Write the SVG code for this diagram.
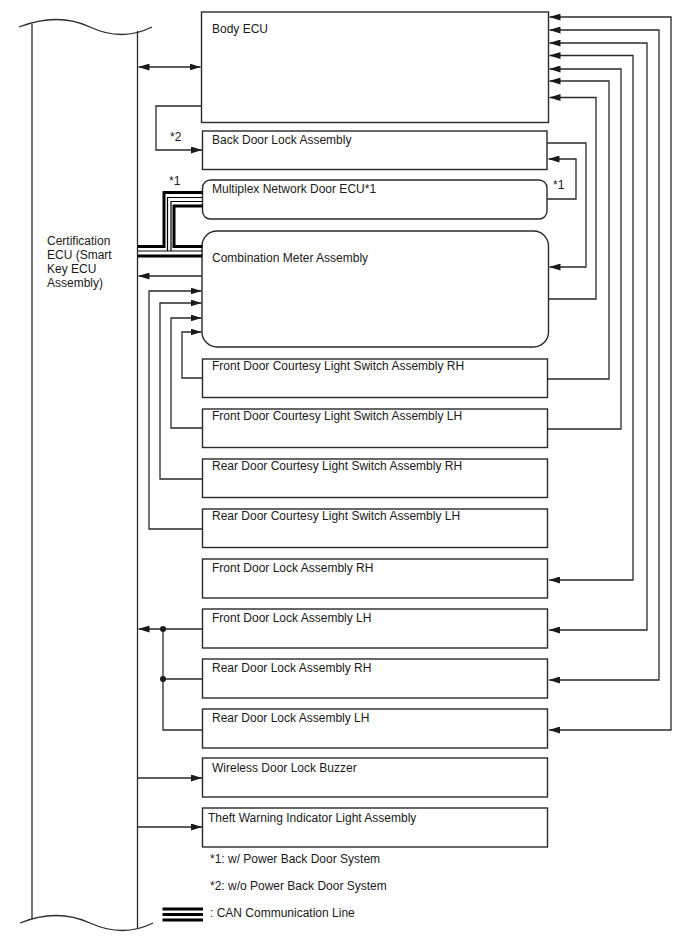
<svg xmlns="http://www.w3.org/2000/svg" width="688" height="949" viewBox="0 0 688 949">
<style>
text{font-family:"Liberation Sans",Arial,sans-serif;font-size:12px;fill:#1a1a1a}
.box{fill:#fff;stroke:#2a2a2a;stroke-width:1.4}
.ln{fill:none;stroke:#2a2a2a;stroke-width:1.3}
.can{fill:none;stroke:#000;stroke-width:3}
.cant{fill:none;stroke:#000;stroke-width:1.2}
</style>
<defs>
<marker id="ah" viewBox="0 0 11 7" refX="11" refY="3.5" markerWidth="11" markerHeight="7" markerUnits="userSpaceOnUse" orient="auto-start-reverse">
<path d="M0,0 L11,3.5 L0,7 z" fill="#1a1a1a"/>
</marker>
</defs>
<rect width="688" height="949" fill="#fff"/>

<g id="cert-ecu">
<path class="ln" d="M19,27 Q58,12 90,27 T152,27"/>
<path class="ln" d="M32,24 V919"/>
<path class="ln" d="M137.5,31 V928"/>
<path class="ln" d="M20,923 Q57,908 90,923 T153,923"/>
<text x="47" y="245">Certification</text>
<text x="47" y="259">ECU (Smart</text>
<text x="47" y="273">Key ECU</text>
<text x="47" y="287">Assembly)</text>
</g>

<g id="body-ecu"><rect class="box" x="201.5" y="12" width="347" height="110.5"/><text x="212" y="33">Body ECU</text></g>
<g id="back-door-lock"><rect class="box" x="202.5" y="131" width="344.5" height="38.5"/><text x="212" y="144">Back Door Lock Assembly</text></g>
<g id="multiplex-door-ecu"><rect class="box" x="202.5" y="180" width="344.5" height="39" rx="8"/><text x="212" y="193">Multiplex Network Door ECU*1</text></g>
<g id="combination-meter"><rect class="box" x="202" y="231" width="346.5" height="116" rx="15"/><text x="212" y="261.5">Combination Meter Assembly</text></g>
<g id="fr-courtesy-rh"><rect class="box" x="202.5" y="359" width="345" height="38.5"/><text x="212" y="370">Front Door Courtesy Light Switch Assembly RH</text></g>
<g id="fr-courtesy-lh"><rect class="box" x="202.5" y="409" width="345" height="38.5"/><text x="212" y="420">Front Door Courtesy Light Switch Assembly LH</text></g>
<g id="rr-courtesy-rh"><rect class="box" x="202.5" y="459" width="345" height="38.5"/><text x="212" y="470">Rear Door Courtesy Light Switch Assembly RH</text></g>
<g id="rr-courtesy-lh"><rect class="box" x="202.5" y="509" width="345" height="38.5"/><text x="212" y="520">Rear Door Courtesy Light Switch Assembly LH</text></g>
<g id="fr-lock-rh"><rect class="box" x="202.5" y="559" width="345" height="39"/><text x="212" y="571.5">Front Door Lock Assembly RH</text></g>
<g id="fr-lock-lh"><rect class="box" x="202.5" y="609" width="345" height="39"/><text x="212" y="621.5">Front Door Lock Assembly LH</text></g>
<g id="rr-lock-rh"><rect class="box" x="202.5" y="659" width="345" height="39"/><text x="212" y="671.5">Rear Door Lock Assembly RH</text></g>
<g id="rr-lock-lh"><rect class="box" x="202.5" y="709" width="345" height="39"/><text x="212" y="721.5">Rear Door Lock Assembly LH</text></g>
<g id="wireless-buzzer"><rect class="box" x="202.5" y="758" width="345" height="39"/><text x="212" y="771.5">Wireless Door Lock Buzzer</text></g>
<g id="theft-indicator"><rect class="box" x="202.5" y="808" width="345" height="39"/><text x="208" y="821.5">Theft Warning Indicator Light Assembly</text></g>

<g id="connectors">
<path class="ln" d="M549,730 H671 V17 H549.5" marker-start="url(#ah)" marker-end="url(#ah)"/>
<path class="ln" d="M549,680 H659 V30 H549.5" marker-start="url(#ah)" marker-end="url(#ah)"/>
<path class="ln" d="M549,630 H647 V43 H549.5" marker-start="url(#ah)" marker-end="url(#ah)"/>
<path class="ln" d="M549,580 H633 V55.5 H549.5" marker-start="url(#ah)" marker-end="url(#ah)"/>
<path class="ln" d="M547.5,429 H621 V69 H549.5" marker-end="url(#ah)"/>
<path class="ln" d="M547.5,379 H609 V81 H549.5" marker-end="url(#ah)"/>
<path class="ln" d="M548.5,299 H596 V97.5 H549.5" marker-end="url(#ah)"/>
<path class="ln" d="M547,143 H586 V267 H549.5" marker-end="url(#ah)"/>
<path class="ln" d="M547,199 H576 V159 H548.5" marker-end="url(#ah)"/>
<text x="553" y="189">*1</text>

<path class="ln" d="M138.5,67 H200.5" marker-start="url(#ah)" marker-end="url(#ah)"/>
<path class="ln" d="M201.5,106 H156 V150 H202" marker-end="url(#ah)"/>
<text x="170" y="141">*2</text>
<path class="ln" d="M202,276 H138.5" marker-end="url(#ah)"/>
<path class="ln" d="M202.5,529 H149 V291 H201.5" marker-end="url(#ah)"/>
<path class="ln" d="M202.5,479 H160 V303 H201.5" marker-end="url(#ah)"/>
<path class="ln" d="M202.5,428 H171 V318 H201.5" marker-end="url(#ah)"/>
<path class="ln" d="M202.5,378 H182 V332 H201.5" marker-end="url(#ah)"/>
<path class="ln" d="M202.5,629 H138.5" marker-end="url(#ah)"/>
<path class="ln" d="M202.5,730 H163 V629"/>
<path class="ln" d="M202.5,679 H163"/>
<circle cx="163" cy="629" r="3" fill="#1a1a1a"/>
<circle cx="163" cy="679" r="3" fill="#1a1a1a"/>
<path class="ln" d="M137.5,778 H202" marker-end="url(#ah)"/>
<path class="ln" d="M137.5,827 H202" marker-end="url(#ah)"/>

<path class="can" d="M138,246.5 H164 V192.5 H202.5"/>
<path class="can" d="M202.5,206 H174 V246.5 H202.5"/>
<path class="cant" d="M202.5,197.5 H167.5 V251"/>
<path class="cant" d="M202.5,201.5 H171 V251"/>
<path class="cant" d="M138,251 H202.5"/>
<path class="can" d="M138,256 H202.5"/>
<text x="169" y="185">*1</text>
</g>

<g id="legend">
<text x="210" y="863">*1: w/ Power Back Door System</text>
<text x="210" y="890">*2: w/o Power Back Door System</text>
<path class="can" d="M162.5,909 H203 M162.5,914.5 H203 M162.5,920 H203"/>
<text x="210" y="917">: CAN Communication Line</text>
</g>
</svg>
